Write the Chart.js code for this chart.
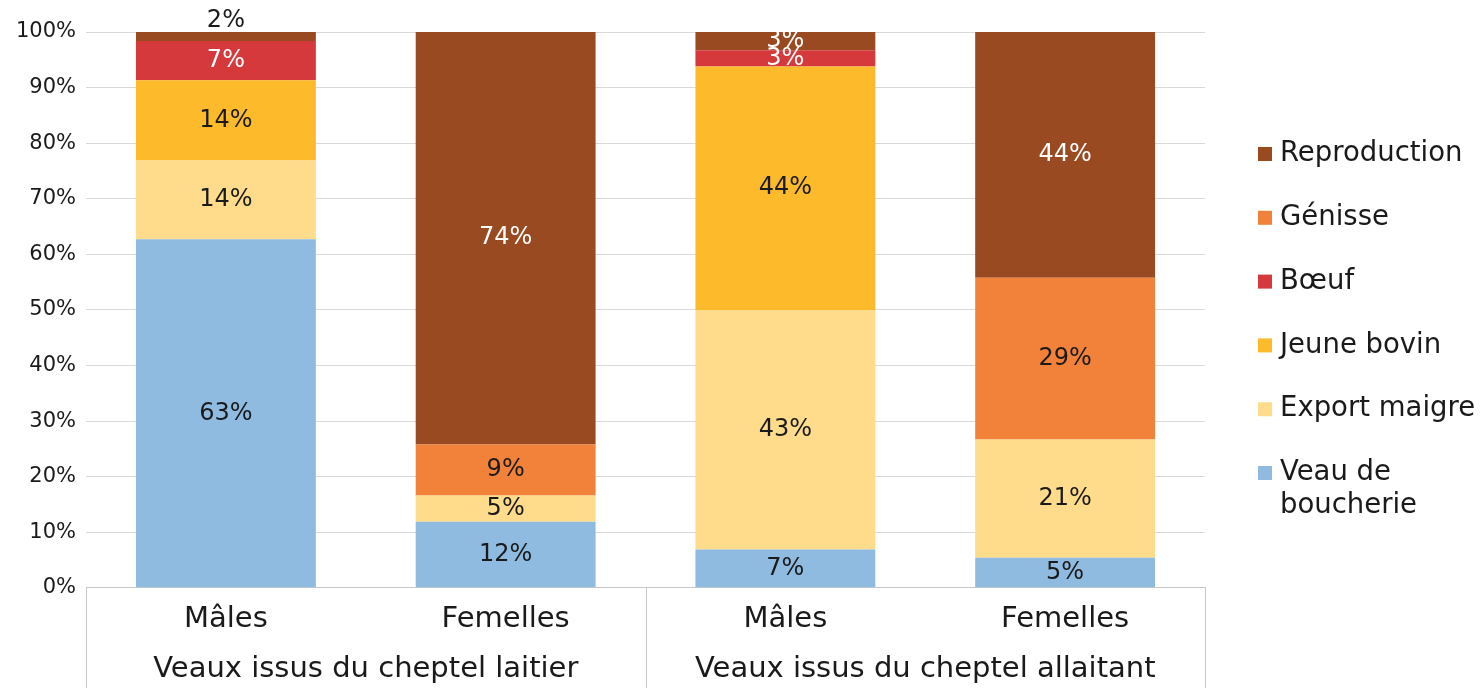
<!DOCTYPE html>
<html>
<head>
<meta charset="utf-8">
<script src="https://cdn.jsdelivr.net/npm/chart.js@4.4.0/dist/chart.umd.min.js"></script>
<style>
    html, body { margin: 0; padding: 0; background: #fff; }
    #wrap { width: 1481px; height: 688px; position: relative; }
</style>
</head>
<body>
<div id="wrap"><canvas id="chart"></canvas></div>
<script>
// categories and group labels
const categories = ['Mâles', 'Femelles', 'Mâles', 'Femelles'];
const groups = ['Veaux issus du cheptel laitier', 'Veaux issus du cheptel allaitant'];

// shares in %, one value per category
const veauBoucherie = [62.7, 11.9, 6.9, 5.4];
const exportMaigre = [14.2, 4.7, 43.1, 21.3];
const jeuneBovin = [14.4, 0, 43.8, 0];
const boeuf = [7.1, 0, 2.9, 0];
const genisse = [0, 9.2, 0, 29.1];
const reproduction = [1.6, 74.2, 3.3, 44.2];

const yTicks = [0, 10, 20, 30, 40, 50, 60, 70, 80, 90, 100];

const FONT = "'DejaVu Sans', sans-serif";
const DARK = '#1a1a1a';

// labels inside the bars
const barLabels = {
    id: 'barLabels',
    afterDatasetsDraw(chart) {
        const ctx = chart.ctx;
        ctx.save();
        ctx.font = `24px ${FONT}`;
        ctx.textAlign = 'center';
        ctx.textBaseline = 'middle';
        chart.data.datasets.forEach((ds, i) => {
            const meta = chart.getDatasetMeta(i);
            if (meta.hidden) return;
            meta.data.forEach((bar, j) => {
                const v = ds.data[j];
                if (!v) return;
                const h = bar.base - bar.y;
                if (h < 12) {
                    // too thin: put it above the bar
                    ctx.fillStyle = DARK;
                    ctx.fillText(Math.round(v) + '%', bar.x, bar.y - 11);
                } else {
                    ctx.fillStyle = ds.labelColor;
                    ctx.fillText(Math.round(v) + '%', bar.x, bar.y + h / 2);
                }
            });
        });
        ctx.restore();
    }
};

// vertical separators under the x axis
const separators = {
    id: 'separators',
    afterDraw(chart) {
        const x = chart.scales.x;
        const ctx = chart.ctx;
        const mid = (x.getPixelForValue(1) + x.getPixelForValue(2)) / 2;
        ctx.save();
        ctx.strokeStyle = '#c8c8c8';
        ctx.lineWidth = 1;
        [x.left, mid, x.right].forEach(px => {
            ctx.beginPath();
            ctx.moveTo(Math.round(px) + 0.5, chart.chartArea.bottom);
            ctx.lineTo(Math.round(px) + 0.5, chart.height);
            ctx.stroke();
        });
        ctx.restore();
    }
};

// legend on the right, drawn by hand so the spacing matches
const sideLegend = {
    id: 'sideLegend',
    afterDraw(chart) {
        const ctx = chart.ctx;
        const left = chart.chartArea.right + 53;
        let y = 154;
        ctx.save();
        ctx.font = `27.5px ${FONT}`;
        ctx.textBaseline = 'middle';
        ctx.textAlign = 'left';
        [...chart.data.datasets].reverse().forEach(ds => {
            ctx.fillStyle = ds.backgroundColor;
            ctx.fillRect(left, y - 7, 14, 14);
            ctx.fillStyle = DARK;
            const lines = ds.legendText || [ds.label];
            lines.forEach((line, k) => ctx.fillText(line, left + 22, y + k * 33));
            y += 63.8;
        });
        ctx.restore();
    }
};

const ctx = document.getElementById('chart').getContext('2d');
new Chart(ctx, {
    type: 'bar',
    data: {
        labels: categories,
        datasets: [
            { label: 'Veau de boucherie', legendText: ['Veau de', 'boucherie'], data: veauBoucherie, backgroundColor: '#8FBBE0', labelColor: DARK },
            { label: 'Export maigre', data: exportMaigre, backgroundColor: '#FEDC8C', labelColor: DARK },
            { label: 'Jeune bovin', data: jeuneBovin, backgroundColor: '#FDBB2B', labelColor: DARK },
            { label: 'Bœuf', data: boeuf, backgroundColor: '#D5393B', labelColor: '#fff' },
            { label: 'Génisse', data: genisse, backgroundColor: '#F2823A', labelColor: DARK },
            { label: 'Reproduction', data: reproduction, backgroundColor: '#994A21', labelColor: '#fff' }
        ]
    },
    options: {
        responsive: true,
        maintainAspectRatio: false,
        animation: false,
        datasets: { bar: { barPercentage: 0.643, categoryPercentage: 1 } },
        layout: { padding: { top: 32, right: 276, left: 6, bottom: 0 } },
        plugins: {
            tooltip: { enabled: false },
            legend: { display: false }
        },
        scales: {
            x: {
                stacked: true,
                grid: { display: false },
                border: { color: '#c8c8c8' },
                ticks: { font: { family: FONT, size: 29 }, color: DARK, padding: 6 }
            },
            x2: {
                type: 'category',
                labels: groups,
                position: 'bottom',
                offset: true,
                grid: { display: false },
                border: { display: false },
                ticks: { font: { family: FONT, size: 29, lineHeight: 1.29 }, color: DARK, padding: 0 }
            },
            y: {
                stacked: true,
                min: 0,
                max: 100,
                afterBuildTicks(scale) {
                    scale.ticks = yTicks.map(v => ({ value: v }));
                },
                grid: { color: '#d9d9d9', drawTicks: false },
                border: { display: false },
                ticks: {
                    font: { family: FONT, size: 21 },
                    color: DARK,
                    padding: 10,
                    callback: v => v + '%'
                }
            }
        }
    },
    plugins: [barLabels, separators, sideLegend]
});
</script>
</body>
</html>
